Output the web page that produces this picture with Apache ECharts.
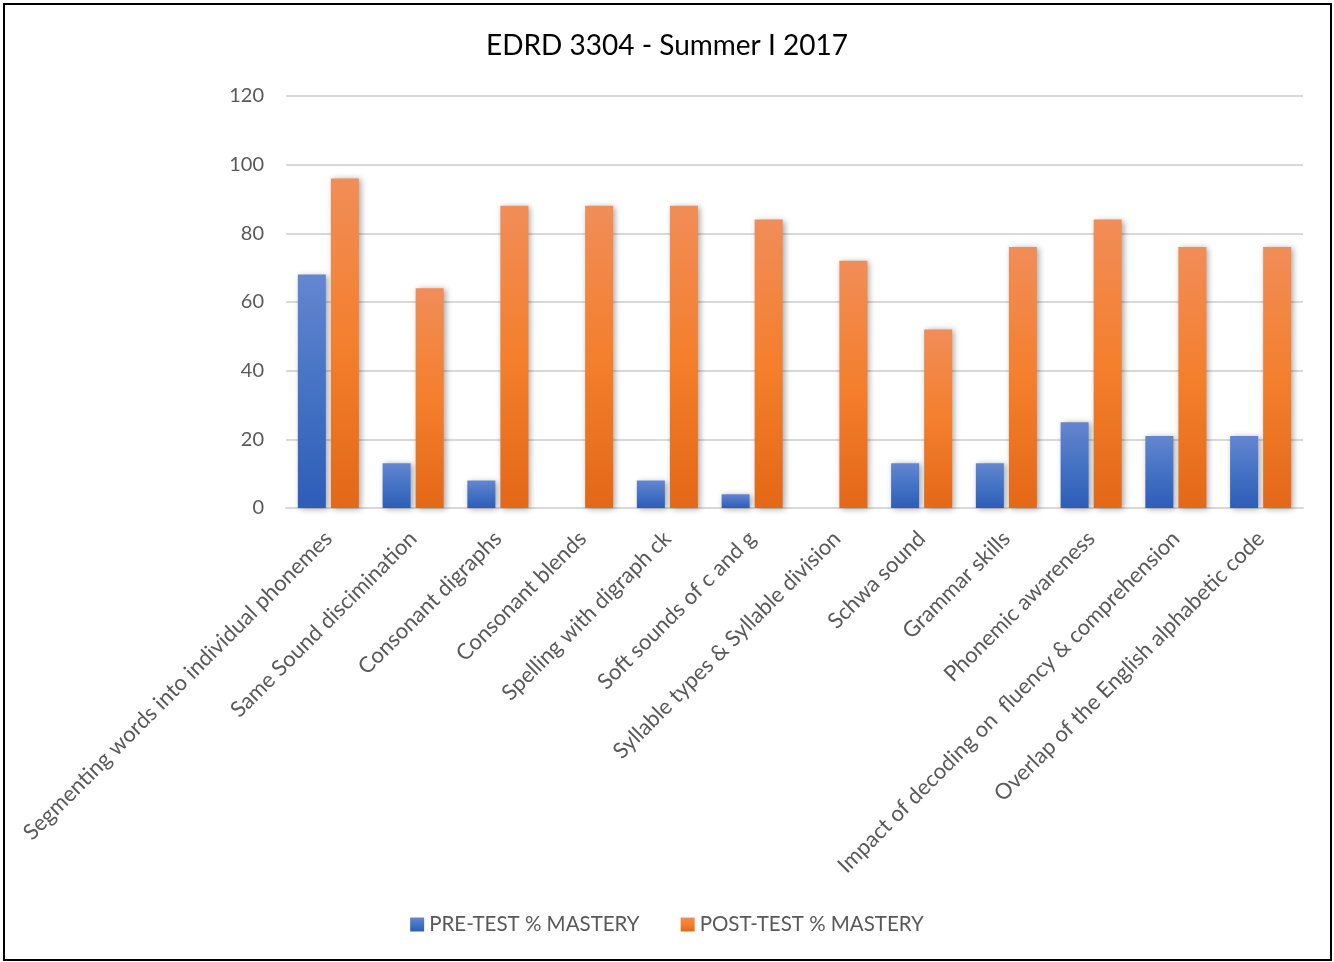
<!DOCTYPE html>
<html>
<head>
<meta charset="utf-8">
<script src="https://cdn.jsdelivr.net/npm/echarts@6/dist/echarts.min.js"></script>
<style>
  html, body { margin: 0; padding: 0; background: #fff; }
  #chart { width: 1334px; height: 962px; }
</style>
</head>
<body>
<div id="chart"></div>
<script>
// Course topics and mastery percentages
const categories = [
  'Segmenting words into individual phonemes',
  'Same Sound discimination',
  'Consonant digraphs',
  'Consonant blends',
  'Spelling with digraph ck',
  'Soft sounds of c and g',
  'Syllable types & Syllable division',
  'Schwa sound',
  'Grammar skills',
  'Phonemic awareness',
  'Impact of decoding on  fluency & comprehension',
  'Overlap of the English alphabetic code'
];
const preTest = [68, 13, 8, 0, 8, 4, 0, 13, 13, 25, 21, 21];
const postTest = [96, 64, 88, 88, 88, 84, 72, 52, 76, 84, 76, 76];
const seriesNames = ['PRE-TEST % MASTERY', 'POST-TEST % MASTERY'];
const titleText = 'EDRD 3304 - Summer I 2017';

const FONT = 'Lato, "Open Sans", sans-serif';
const TEXT_GREY = '#595959';

function vGrad(stops) {
  return new echarts.graphic.LinearGradient(0, 0, 0, 1,
    stops.map(s => ({ offset: s[0], color: s[1] })));
}

const blueFill = vGrad([[0, '#6486d0'], [0.5, '#4472c4'], [1, '#2d5db7']]);
const orangeFill = vGrad([[0, '#f18d58'], [0.5, '#f47f2d'], [1, '#e36817']]);

const chart = echarts.init(document.getElementById('chart'), null, { renderer: 'canvas' });

chart.setOption({
  backgroundColor: '#ffffff',
  animation: false,
  title: {
    text: titleText,
    left: 'center',
    top: 27,
    textStyle: { fontFamily: FONT, fontSize: 28, fontWeight: 'normal', color: '#000000' }
  },
  legend: {
    bottom: 22,
    left: 'center',
    itemWidth: 14,
    itemHeight: 14,
    itemGap: 41,
    icon: 'rect',
    textStyle: { fontFamily: FONT, fontSize: 20.5, color: TEXT_GREY },
    data: seriesNames
  },
  grid: { left: 286, right: 31, top: 96, bottom: 454, containLabel: false },
  xAxis: {
    type: 'category',
    data: categories,
    axisTick: { show: false },
    axisLine: { show: true, lineStyle: { color: '#d9d9d9', width: 2 } },
    axisLabel: {
      interval: 0,
      rotate: 45,
      margin: 27,
      fontFamily: FONT,
      fontSize: 22,
      color: TEXT_GREY
    }
  },
  yAxis: {
    type: 'value',
    min: 0,
    max: 120,
    interval: 20,
    axisLine: { show: false },
    axisTick: { show: false },
    splitLine: { lineStyle: { color: '#d9d9d9', width: 2 } },
    axisLabel: { margin: 22, fontFamily: FONT, fontSize: 20, color: TEXT_GREY }
  },
  series: [
    {
      name: seriesNames[0],
      type: 'bar',
      data: preTest,
      barWidth: 28,
      barGap: '18%',
      itemStyle: {
        color: blueFill,
        shadowBlur: 6,
        shadowColor: 'rgba(0,0,0,0.35)',
        shadowOffsetX: 2,
        shadowOffsetY: 1
      }
    },
    {
      name: seriesNames[1],
      type: 'bar',
      data: postTest,
      barWidth: 28,
      itemStyle: {
        color: orangeFill,
        shadowBlur: 6,
        shadowColor: 'rgba(0,0,0,0.35)',
        shadowOffsetX: 2,
        shadowOffsetY: 1
      }
    }
  ],
  graphic: [
    {
      type: 'rect',
      silent: true,
      shape: { x: 4, y: 4, width: 1327, height: 956 },
      style: { fill: null, stroke: '#000000', lineWidth: 2 },
      z: 100
    }
  ]
});
</script>
</body>
</html>
